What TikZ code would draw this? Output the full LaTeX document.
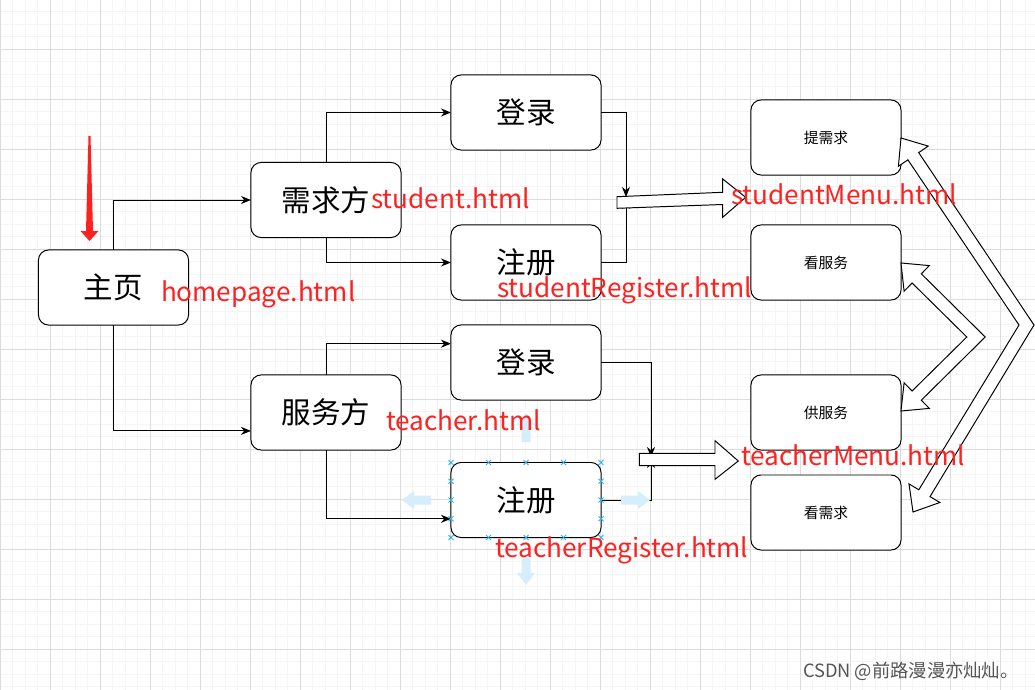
\documentclass[tikz,border=0pt]{standalone}
\usepackage{fontspec}
\setmainfont{Noto Sans CJK SC}
\usetikzlibrary{arrows.meta}
\definecolor{rojoLbl}{RGB}{255,32,32}
\definecolor{gridA}{RGB}{245,245,245}
\definecolor{gridB}{RGB}{220,220,220}
\definecolor{handleBlue}{RGB}{41,182,242}
\definecolor{hoverBlue}{RGB}{214,237,251}
\definecolor{marcaGris}{RGB}{85,85,85}

\begin{document}
\begin{tikzpicture}[
  x=0.025cm, y=-0.025cm,
  every node/.style = {inner sep=0pt, outer sep=0pt},
  gridMinor/.style = {draw=gridA, line width=0.6pt},
  gridMajor/.style = {draw=gridB, line width=0.6pt},
  box/.style   = {rectangle, rounded corners=0.25cm, draw=black, fill=white,
                  line width=0.7pt, minimum width=3.75cm, minimum height=1.875cm,
                  font=\fontsize{21}{24}\selectfont},
  menu/.style  = {box, font=\fontsize{10.5}{12}\selectfont},
  lbl/.style   = {anchor=base west, text=rojoLbl, font=\fontsize{18.6}{22}\selectfont},
  conn/.style  = {draw=black, line width=0.7pt,
                  -{Stealth[length=0.25cm,width=0.2cm,inset=0.08cm]}},
  hollow/.style = {draw=black, fill=white, line width=0.7pt},
  hover/.style  = {fill=hoverBlue},
  handle/.style = {draw=handleBlue, line width=0.6pt},
]
% ── Fondo y rejilla ──────────────────────────────────────────
\fill[white] (0,0) rectangle (1035,690);
\useasboundingbox (0,0) rectangle (1035,690);
\foreach \gx in {0,12.5,...,1035} \draw[gridMinor] (\gx,0) -- (\gx,690);
\foreach \gy in {11.5,24,...,690} \draw[gridMinor] (0,\gy) -- (1035,\gy);
\foreach \gx in {0,50,...,1000} \draw[gridMajor] (\gx,0) -- (\gx,690);
\foreach \gy in {49,99,...,649} \draw[gridMajor] (0,\gy) -- (1035,\gy);

% ── Nodos ────────────────────────────────────────────────────
\node[box]  (home)     at (113.5,287.5) {主页};
\node[box]  (stu)      at (326,200)     {需求方};
\node[box]  (stuLogin) at (526,112.5)   {登录};
\node[box]  (stuReg)   at (526,262.5)   {注册};
\node[box]  (tea)      at (326,412.5)   {服务方};
\node[box]  (teaLogin) at (526,362.5)   {登录};
\node[box]  (teaReg)   at (526,500)     {注册};
\node[menu] (needPost) at (826,137.5)   {提需求};
\node[menu] (svcView)  at (826,262.5)   {看服务};
\node[menu] (svcPost)  at (826,412.5)   {供服务};
\node[menu] (needView) at (826,512.5)   {看需求};

\coordinate (jTopA) at (626,197);
\coordinate (jTopB) at (626,199);
\coordinate (jBotA) at (651,457);
\coordinate (jBotB) at (651,458);

% ── Flecha roja de entrada ───────────────────────────────────
\fill[rojoLbl] (88.5,136) -- (90.5,136) -- (93,231) -- (98.5,231)
  -- (89.5,241) -- (80.5,231) -- (86,231) -- cycle;

% ── Conectores ───────────────────────────────────────────────
\draw[conn] (home.north) |- (stu.west);
\draw[conn] (home.south) |- ([yshift=-0.46cm]tea.west);
\draw[conn] (stu.north)  |- (stuLogin.west);
\draw[conn] (stu.south)  |- (stuReg.west);
\draw[conn] (tea.north)  |- ([yshift=0.47cm]teaLogin.west);
\draw[conn] (tea.south)  |- ([yshift=-0.47cm]teaReg.west);
\draw[conn] (stuLogin.east) -| (jTopA);
\draw[conn] (stuReg.east)   -| (jTopB);
\draw[conn] (teaLogin.east) -| (jBotA);
\draw[conn] (teaReg.east)   -| (jBotB);

% ── Flechas huecas ───────────────────────────────────────────
\draw[hollow] (617,196.7) -- (722.7,192.3) -- (722.7,179) -- (745.7,197.3)
  -- (722.7,217.3) -- (722.7,204.5) -- (617,208.3) -- cycle;
\draw[hollow] (639.3,453.3) -- (715,453.3) -- (715,440.7) -- (738.3,461)
  -- (715,479.3) -- (715,465.7) -- (639.3,465.7) -- cycle;
\draw[hollow] (901,263) -- (929.3,265.6) -- (921.3,273.8) -- (985.2,337)
  -- (921.3,400.2) -- (929.3,408.4) -- (901,411) -- (904.1,382.8)
  -- (912.1,391) -- (966.8,337) -- (912.1,283) -- (904.1,291.2) -- cycle;
\draw[hollow] (901,138) -- (928.2,146.1) -- (918.7,152.6) -- (1034,325)
  -- (930,496.6) -- (939.8,502.5) -- (913,512) -- (909,483.9)
  -- (918.8,489.8) -- (1019,325) -- (907.9,159.8) -- (898.4,166.3) -- cycle;

% ── Selección del nodo teaReg ────────────────────────────────
\fill[hover] (521.5,442) -- (521.5,425) -- (517,425) -- (526,413)
  -- (535,425) -- (530.5,425) -- (530.5,442) -- cycle;
\fill[hover] (521.5,558) -- (521.5,573) -- (517,573) -- (526,585)
  -- (535,573) -- (530.5,573) -- (530.5,558) -- cycle;
\fill[hover] (431,495.5) -- (414,495.5) -- (414,491) -- (402,500)
  -- (414,509) -- (414,504.5) -- (431,504.5) -- cycle;
\fill[hover] (621,495.5) -- (638,495.5) -- (638,491) -- (650,500)
  -- (638,509) -- (638,504.5) -- (621,504.5) -- cycle;
\foreach \hx in {451,488.5,526,563.5,601}
  \foreach \hy in {462.5,537.5}
    \draw[handle] (\hx-2.5,\hy-2.5) -- (\hx+2.5,\hy+2.5)
                  (\hx-2.5,\hy+2.5) -- (\hx+2.5,\hy-2.5);
\foreach \hx in {451,601}
  \foreach \hy in {481.25,500,518.75}
    \draw[handle] (\hx-2.5,\hy-2.5) -- (\hx+2.5,\hy+2.5)
                  (\hx-2.5,\hy+2.5) -- (\hx+2.5,\hy-2.5);

% ── Etiquetas html ───────────────────────────────────────────
\node[lbl] (lblHome)    at (161,301)  {homepage.html};
\node[lbl] (lblStu)     at (371,208)  {student.html};
\node[lbl] (lblStuReg)  at (497,297)  {studentRegister.html};
\node[lbl] (lblStuMenu) at (731,204)  {studentMenu.html};
\node[lbl] (lblTea)     at (386,430)  {teacher.html};
\node[lbl] (lblTeaMenu) at (741,465)  {teacherMenu.html};
\node[lbl] (lblTeaReg)  at (495,557)  {teacherRegister.html};

\node[anchor=base west, text=marcaGris, font=\fontsize{13}{15}\selectfont]
  (marca) at (803,677) {CSDN @前路漫漫亦灿灿。};
\end{tikzpicture}
\end{document}
